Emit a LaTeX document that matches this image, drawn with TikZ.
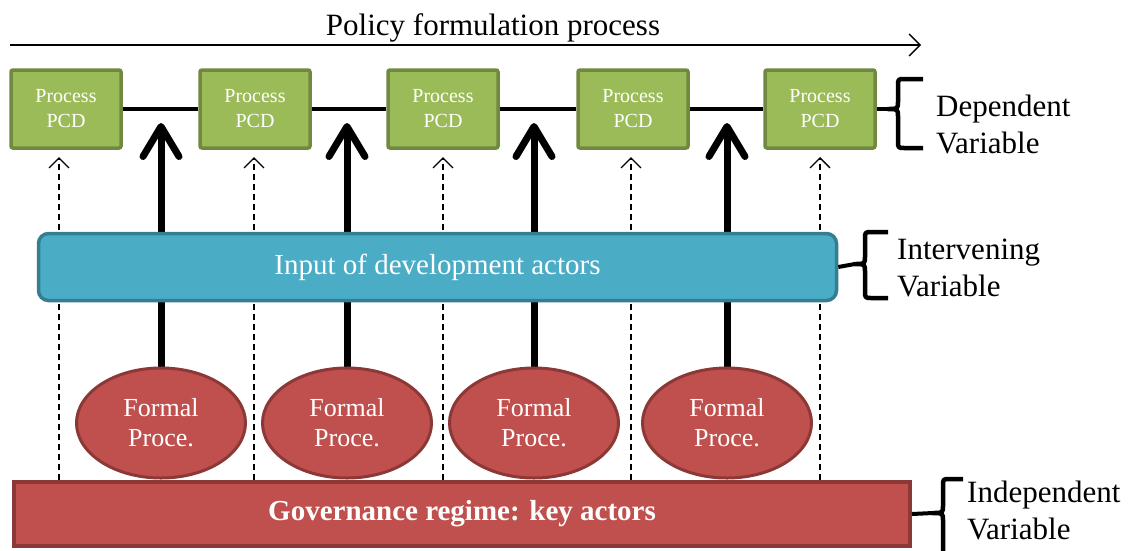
\documentclass[tikz,border=0pt]{standalone}
\usepackage{fontspec}
\setmainfont{LiberationSerif}[Extension=.ttf, UprightFont=*-Regular, BoldFont=*-Bold, ItalicFont=*-Italic, BoldItalicFont=*-BoldItalic]
\usetikzlibrary{arrows.meta,shapes.geometric,backgrounds}
\definecolor{pgreen}{HTML}{9BBB59}
\definecolor{pgreenb}{HTML}{71893F}
\definecolor{pblue}{HTML}{4BACC6}
\definecolor{pblueb}{HTML}{357D91}
\definecolor{pred}{HTML}{C0504D}
\definecolor{predb}{HTML}{8C3836}
\begin{document}
\begin{tikzpicture}[x=1pt,y=-1pt,
  procbox/.style={draw=pgreenb, fill=pgreen, line width=3.5pt, rounded corners=2pt,
    minimum width=110pt, minimum height=78pt, inner sep=0pt, text=white,
    font=\fontsize{20}{25}\selectfont, align=center},
  inputbox/.style={draw=pblueb, fill=pblue, line width=3.5pt, rounded corners=10pt,
    minimum width=798pt, minimum height=67pt, inner sep=0pt, text=white,
    font=\fontsize{29}{34}\selectfont},
  formal/.style={ellipse, draw=predb, fill=pred, line width=3pt,
    minimum width=169pt, minimum height=110pt, inner sep=0pt, text=white,
    font=\fontsize{26}{30}\selectfont, align=center},
  govbox/.style={draw=predb, fill=pred, line width=4pt,
    minimum width=896pt, minimum height=64pt, inner sep=0pt, text=white,
    font=\fontsize{29}{34}\selectfont\bfseries},
  varlabel/.style={anchor=west, inner sep=0pt, align=left,
    font=\fontsize{31}{37}\selectfont},
  link/.style={line width=4pt},
  boldarrow/.style={line width=7pt, -{Straight Barb[length=30pt,width=36pt,round]}},
  dasharrow/.style={line width=1.3pt, dash pattern=on 6pt off 4pt,
    -{Straight Barb[length=10pt,width=20pt]}},
  timearrow/.style={line width=1.3pt, -{Straight Barb[length=11pt,width=22pt]}},
  bracepath/.style={line width=4.5pt, line join=round}
]
\useasboundingbox (0,0) rectangle (1133,550);

% title and time arrow
\node[font=\fontsize{31}{37}\selectfont, inner sep=0pt] (title) at (493,28) {Policy formulation process};
\coordinate (t0) at (10,45);
\coordinate (t1) at (921,45);
\draw[timearrow] (t0) -- (t1);

% process boxes
\node[procbox] (p1) at (66,109) {Process\\PCD};
\node[procbox] (p2) at (255,109) {Process\\PCD};
\node[procbox] (p3) at (443,109) {Process\\PCD};
\node[procbox] (p4) at (633,109) {Process\\PCD};
\node[procbox] (p5) at (820,109) {Process\\PCD};

% intervening box
\node[inputbox] (inp) at (437.5,267) {Input of development actors};

% formal procedures
\node[formal] (f1) at (161,423) {Formal\\Proce.};
\node[formal] (f2) at (347,423) {Formal\\Proce.};
\node[formal] (f3) at (534,423) {Formal\\Proce.};
\node[formal] (f4) at (727,423) {Formal\\Proce.};

% governance box
\node[govbox] (gov) at (462,514) {Governance regime: key actors};

% coordinates for arrow ends
\coordinate (b1) at (161,123);
\coordinate (b2) at (347,123);
\coordinate (b3) at (534,123);
\coordinate (b4) at (727,123);
\coordinate (d1) at (59,480);  \coordinate (e1) at (59,157);
\coordinate (d2) at (254,480); \coordinate (e2) at (254,157);
\coordinate (d3) at (443,480); \coordinate (e3) at (443,157);
\coordinate (d4) at (631,480); \coordinate (e4) at (631,157);
\coordinate (d5) at (820,480); \coordinate (e5) at (820,157);

\begin{scope}[on background layer]
  \draw[dasharrow] (d1) -- (e1);
  \draw[dasharrow] (d2) -- (e2);
  \draw[dasharrow] (d3) -- (e3);
  \draw[dasharrow] (d4) -- (e4);
  \draw[dasharrow] (d5) -- (e5);
  \draw[boldarrow] (f1.north) -- (b1);
  \draw[boldarrow] (f2.north) -- (b2);
  \draw[boldarrow] (f3.north) -- (b3);
  \draw[boldarrow] (f4.north) -- (b4);
  \draw[link] (p1.east) -- (p2.west);
  \draw[link] (p2.east) -- (p3.west);
  \draw[link] (p3.east) -- (p4.west);
  \draw[link] (p4.east) -- (p5.west);
\end{scope}

% braces
\coordinate (c1) at (888,109);
\draw[link] (p5.east) -- (c1);
\draw[bracepath] (923,79) -- (905,79) .. controls (898,79) .. (898,86) -- (898,101)
  .. controls (898,109) .. (c1) .. controls (898,109) .. (898,117) -- (898,141)
  .. controls (898,148) .. (905,148) -- (923,148);
\node[varlabel] (dep) at (936,124) {Dependent\\Variable};

\coordinate (c2) at (855,264);
\draw[link] (inp.east) -- (c2);
\draw[bracepath] (888,232) -- (872,232) .. controls (865,232) .. (865,239) -- (865,256)
  .. controls (865,264) .. (c2) .. controls (865,264) .. (865,272) -- (865,291)
  .. controls (865,298) .. (872,298) -- (888,298);
\node[varlabel] (int) at (897,268) {Intervening\\Variable};

\coordinate (c3) at (933,513);
\draw[link] (gov.east) -- (c3);
\draw[bracepath] (963,479) -- (950,479) .. controls (943,479) .. (943,486) -- (943,505)
  .. controls (943,513) .. (c3) .. controls (943,513) .. (943,521) -- (943,550)
  .. controls (943,557) .. (950,557) -- (963,557);
\node[varlabel] (ind) at (967,510) {Independent\\Variable};
\end{tikzpicture}
\end{document}
